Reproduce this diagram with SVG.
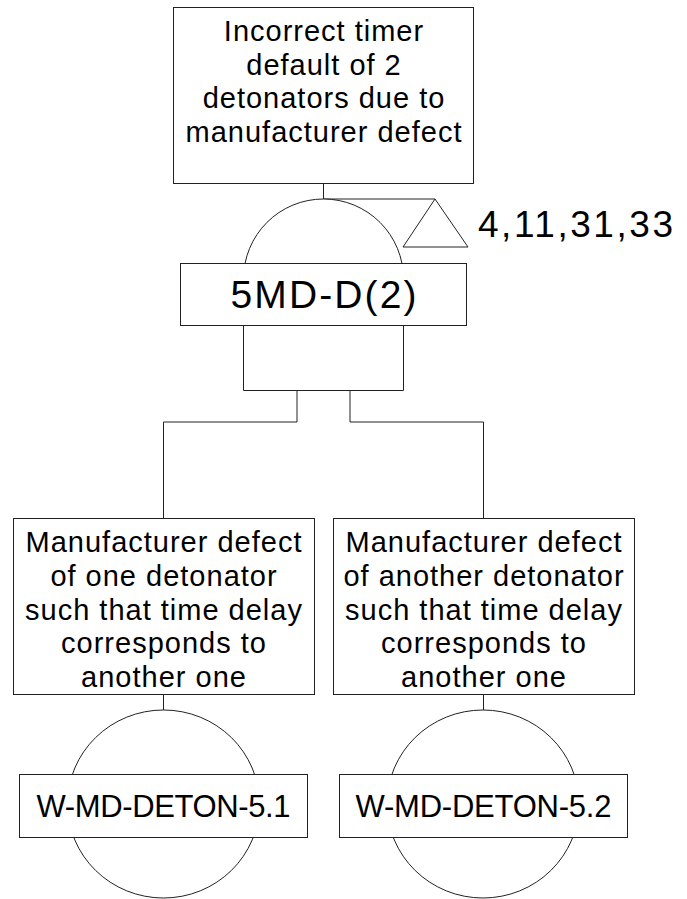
<svg xmlns="http://www.w3.org/2000/svg" width="687" height="899" viewBox="0 0 687 899">
<style>
.b{fill:#fff;stroke:#222;stroke-width:1}
.l{fill:none;stroke:#222;stroke-width:1}
.t{font-family:"Liberation Sans",Arial,sans-serif;fill:#000;text-anchor:middle}
.d{font-size:29px;letter-spacing:1px}
</style>
<rect width="687" height="899" fill="#fff"/>
<g id="connectors">
<path class="l" d="M323.5,183V199"/>
<path class="l" d="M323.5,199H435"/>
<path class="l" d="M297,390V422H163.5V518"/>
<path class="l" d="M350,390V422H483.5V518"/>
<path class="l" d="M163.5,694V710"/>
<path class="l" d="M483.5,694V710"/>
</g>
<g id="top-event">
<rect class="b" x="173.5" y="7.5" width="300" height="176"/>
<text class="t d" x="324" y="41">Incorrect timer</text>
<text class="t d" x="324" y="75">default of 2</text>
<text class="t d" x="324" y="108">detonators due to</text>
<text class="t d" x="324" y="142">manufacturer defect</text>
</g>
<g id="gate">
<path class="b" d="M243.5,279A80,80 0 0 1 403.5,279V390.5H243.5Z"/>
<rect class="b" x="180.5" y="263.5" width="286" height="62"/>
<text class="t" x="323.5" y="308" font-size="39" textLength="186" lengthAdjust="spacing">5MD-D(2)</text>
</g>
<g id="transfer">
<path class="b" d="M435,199L468,247H403Z"/>
<text x="478" y="237" font-family="Liberation Sans,Arial,sans-serif" font-size="37" textLength="195" lengthAdjust="spacing">4,11,31,33</text>
</g>
<g id="event-left">
<rect class="b" x="13.5" y="518.5" width="301" height="176"/>
<text class="t d" x="164" y="552">Manufacturer defect</text>
<text class="t d" x="164" y="586">of one detonator</text>
<text class="t d" x="164" y="620">such that time delay</text>
<text class="t d" x="164" y="653">corresponds to</text>
<text class="t d" x="164" y="687">another one</text>
</g>
<g id="event-right">
<rect class="b" x="333.5" y="518.5" width="301" height="176"/>
<text class="t d" x="484" y="552">Manufacturer defect</text>
<text class="t d" x="484" y="586">of another detonator</text>
<text class="t d" x="484" y="620">such that time delay</text>
<text class="t d" x="484" y="653">corresponds to</text>
<text class="t d" x="484" y="687">another one</text>
</g>
<g id="basic-left">
<ellipse class="b" cx="163.5" cy="804" rx="96" ry="94"/>
<rect class="b" x="19.5" y="774.5" width="288" height="63"/>
<text class="t" x="163.5" y="817" font-size="31" textLength="254" lengthAdjust="spacing">W-MD-DETON-5.1</text>
</g>
<g id="basic-right">
<ellipse class="b" cx="483" cy="804" rx="96" ry="94"/>
<rect class="b" x="339.5" y="774.5" width="288" height="63"/>
<text class="t" x="483.5" y="817" font-size="31" textLength="256" lengthAdjust="spacing">W-MD-DETON-5.2</text>
</g>
</svg>
